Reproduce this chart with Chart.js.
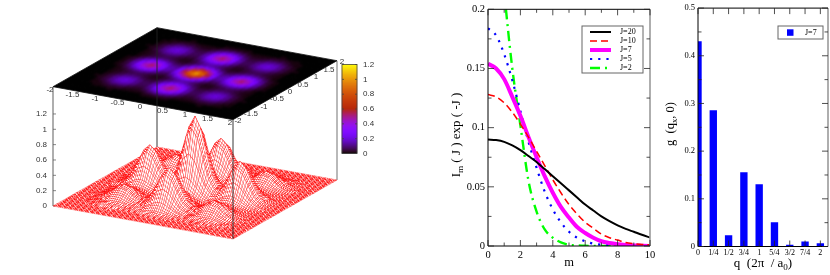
<!DOCTYPE html>
<html>
<head>
<meta charset="utf-8">
<script src="https://cdn.jsdelivr.net/npm/chart.js@4"></script>
<style>
  html, body { margin: 0; padding: 0; background: #fff; }
  body { position: relative; width: 830px; height: 275px; overflow: hidden; }
  canvas { position: absolute; top: 0; filter: blur(0.4px); }
  #heatWrap { position: absolute; left: 0; top: 0; width: 400px; height: 275px; }
  #heatChart { left: 0; filter: blur(1.2px); }
  #surfaceChart { left: 0; }
  #besselChart { left: 440px; }
  #barChart { left: 660px; }
</style>
</head>
<body>
<div id="heatWrap"><canvas id="heatChart" width="400" height="275"></canvas></div>
<canvas id="surfaceChart" width="400" height="275"></canvas>
<canvas id="besselChart" width="220" height="275"></canvas>
<canvas id="barChart" width="170" height="275"></canvas>
<script>
// surface heights, one quadrant (x,y = 0..2 in steps of 0.125), the rest mirrors it
const zQuadrant = [
  [1.00,.86,.56,.28,.14,.16,.29,.45,.52,.45,.29,.14,.05,.01,0,0,0],
  [.86,.75,.48,.24,.12,.14,.25,.39,.45,.39,.25,.12,.04,.01,0,0,0],
  [.56,.48,.31,.16,.08,.09,.16,.25,.29,.25,.16,.08,.03,.01,0,0,0],
  [.28,.24,.16,.08,.04,.05,.08,.12,.14,.12,.08,.04,.01,0,0,0,0],
  [.14,.12,.08,.04,.02,.02,.04,.06,.07,.06,.04,.02,.01,0,0,0,0],
  [.16,.14,.09,.05,.02,.02,.04,.06,.07,.06,.04,.02,.01,0,0,0,0],
  [.29,.25,.16,.08,.04,.04,.06,.10,.11,.10,.06,.03,.01,0,0,0,0],
  [.45,.39,.25,.12,.06,.06,.10,.15,.17,.15,.10,.05,.02,0,0,0,0],
  [.52,.45,.29,.14,.07,.07,.11,.17,.20,.17,.11,.05,.02,.01,0,0,0],
  [.45,.39,.25,.12,.06,.06,.10,.15,.17,.15,.10,.05,.02,0,0,0,0],
  [.29,.25,.16,.08,.04,.04,.06,.10,.11,.10,.06,.03,.01,0,0,0,0],
  [.14,.12,.08,.04,.02,.02,.03,.05,.05,.05,.03,.01,.01,0,0,0,0],
  [.05,.04,.03,.01,.01,.01,.01,.02,.02,.02,.01,.01,0,0,0,0,0],
  [.01,.01,.01,0,0,0,0,0,.01,0,0,0,0,0,0,0,0],
  [0,0,0,0,0,0,0,0,0,0,0,0,0,0,0,0,0],
  [0,0,0,0,0,0,0,0,0,0,0,0,0,0,0,0,0],
  [0,0,0,0,0,0,0,0,0,0,0,0,0,0,0,0,0]
];
const planeTicks = [-2, -1.5, -1, -0.5, 0, 0.5, 1, 1.5, 2];
const zTicks = [0, 0.2, 0.4, 0.6, 0.8, 1, 1.2];

// middle panel
const mValues = [0,.5,1,1.5,2,2.5,3,3.5,4,4.5,5,5.5,6,6.5,7,7.5,8,8.5,9,9.5,10];
const j20 = [.090,.0895,.088,.085,.081,.076,.071,.065,.059,.053,.047,.041,.035,.030,.025,.021,.0175,.0145,.012,.0095,.0072];
const j10 = [.128,.126,.121,.113,.103,.092,.080,.068,.056,.045,.035,.027,.020,.015,.010,.007,.005,.003,.002,.0013,.001];
const j7 = [.154,.150,.141,.126,.110,.092,.075,.059,.045,.033,.024,.016,.011,.007,.004,.0025,.0015,.0009,.0005,.0003,.0001];
const j5 = [.184,.178,.162,.140,.114,.088,.066,.046,.031,.020,.012,.007,.004,.002,.001,.0005,.0002,.0001,0,0,0];
const j2 = [.31,.29,.215,.15,.102,.055,.029,.014,.007,.003,.001,.0005,.0002,.0001,0,0,0,0,0,0,0];
const mTicks = [0, 2, 4, 6, 8, 10];
const mMinor = [1, 3, 5, 7, 9];
const imTicks = [0, 0.05, 0.1, 0.15, 0.2];
const imMinor = [0.025, 0.075, 0.125, 0.175];

// right panel
const qValues = [0, 0.25, 0.5, 0.75, 1, 1.25, 1.5, 1.75, 2];
const qLabels = ['0', '1/4', '1/2', '3/4', '1', '5/4', '3/2', '7/4', '2'];
const gValues = [0.43, 0.285, 0.023, 0.155, 0.13, 0.05, 0.003, 0.01, 0.006];
const gTicks = [0, 0.1, 0.2, 0.3, 0.4, 0.5];
const gMinor = [0.05, 0.15, 0.25, 0.35, 0.45];

Chart.defaults.animation = false;
Chart.defaults.events = [];
Chart.defaults.plugins.legend.display = false;
Chart.defaults.plugins.tooltip.enabled = false;

// projection of the gnuplot view into the page-sized axes of the left charts
const SERIF = '"Liberation Serif", "Times New Roman", serif';
const SANS = '"Liberation Sans", Arial, sans-serif';
const floorProj = (x, y, z) => ({ x: 195 + 45 * x + 26 * y, y: 193 + 8.25 * x - 14.75 * y - 76.7 * z });
const topProj = (x, y) => ({ x: 195 + 45 * x + 26 * y, y: 73.7 + 8.25 * x - 14.75 * y });

const gridZ = (i, j) => zQuadrant[Math.abs(i)][Math.abs(j)];
const step = 0.125;

function pm3d(z) {
  const g = Math.min(Math.max(z / 1.2, 0), 1);
  const r = Math.sqrt(g), gr = g * g * g, b = Math.max(Math.sin(2 * Math.PI * g), 0);
  return `rgb(${Math.round(r * 255)},${Math.round(gr * 255)},${Math.round(b * 255)})`;
}

function shape(points, fill, line, width) {
  return { data: points.concat([points[0]]), showLine: true, fill: 'shape', backgroundColor: fill,
    borderColor: line, borderWidth: width, pointRadius: 0, borderDash: [200, 0], clip: false };
}

const pageScales = {
  x: { type: 'linear', min: 0, max: 400, display: false },
  y: { type: 'linear', min: 0, max: 275, reverse: true, display: false }
};

// heat map on the top plane, one cell around each grid node
const heatCells = [];
for (let i = -16; i <= 16; i++) {
  for (let j = -16; j <= 16; j++) {
    const c = pm3d(gridZ(i, j));
    const x0 = (i - 0.5) * step, x1 = (i + 0.5) * step, y0 = (j - 0.5) * step, y1 = (j + 0.5) * step;
    heatCells.push(shape([topProj(x0, y0), topProj(x1, y0), topProj(x1, y1), topProj(x0, y1)], c, c, 1));
  }
}
const heatChart = new Chart(document.getElementById('heatChart'), {
  type: 'scatter',
  data: { datasets: heatCells },
  options: { responsive: false, devicePixelRatio: 1, layout: { padding: 0 }, scales: pageScales }
});
{
  const sx = heatChart.scales.x, sy = heatChart.scales.y;
  const poly = [[-2, -2], [2, -2], [2, 2], [-2, 2]].map(c => {
    const p = topProj(c[0], c[1]);
    return `${sx.getPixelForValue(p.x)}px ${sy.getPixelForValue(p.y)}px`;
  });
  document.getElementById('heatWrap').style.clipPath = `polygon(${poly.join(',')})`;
}

// fine mesh look: a tile with two inner lines each way, stretched over one facet
const MESH_RED = 'rgba(255,0,0,0.74)';
const MESH_W = 0.5;
function facetPattern(ctx, p) {
  const ux = (p[1].x - p[0].x + p[2].x - p[3].x) / 2, uy = (p[1].y - p[0].y + p[2].y - p[3].y) / 2;
  const vx = (p[3].x - p[0].x + p[2].x - p[1].x) / 2, vy = (p[3].y - p[0].y + p[2].y - p[1].y) / 2;
  const cross = Math.abs(ux * vy - uy * vx) || 1;
  const T = 15;
  const wu = Math.min(MESH_W * T * Math.hypot(vx, vy) / cross, 4);
  const wv = Math.min(MESH_W * T * Math.hypot(ux, uy) / cross, 4);
  const tile = document.createElement('canvas');
  tile.width = T; tile.height = T;
  const t = tile.getContext('2d');
  t.fillStyle = '#fff'; t.fillRect(0, 0, T, T);
  t.fillStyle = MESH_RED;
  t.fillRect(5 - wu / 2, 0, wu, T); t.fillRect(10 - wu / 2, 0, wu, T);
  t.fillRect(0, 5 - wv / 2, T, wv); t.fillRect(0, 10 - wv / 2, T, wv);
  const pat = ctx.createPattern(tile, 'repeat');
  pat.setTransform(new DOMMatrix([ux / T, uy / T, vx / T, vy / T, p[0].x, p[0].y]));
  return pat;
}

// mesh quads, first in the list is drawn last so the front goes first
const surfaceCtx = document.getElementById('surfaceChart').getContext('2d');
const quads = [];
for (let i = -16; i < 16; i++) {
  for (let j = -16; j < 16; j++) {
    const pts = [[i, j], [i + 1, j], [i + 1, j + 1], [i, j + 1]].map(c => floorProj(c[0] * step, c[1] * step, gridZ(c[0], c[1])));
    quads.push({ depth: i - j, set: shape(pts, facetPattern(surfaceCtx, pts), MESH_RED, MESH_W) });
  }
}
quads.sort((a, b) => b.depth - a.depth);

const cbSets = [];
for (let k = 0; k < 89; k++) {
  const y0 = 153.5 - k, c = pm3d((k + 0.5) / 89 * 1.2);
  cbSets.push(shape([{ x: 342, y: y0 }, { x: 357, y: y0 }, { x: 357, y: y0 - 1 }, { x: 342, y: y0 - 1 }], c, c, 0.6));
}

const box3dPlugin = {
  id: 'box3d',
  beforeDatasetsDraw(chart) {
    const ctx = chart.ctx, sx = chart.scales.x, sy = chart.scales.y;
    const P = p => [sx.getPixelForValue(p.x), sy.getPixelForValue(p.y)];
    const line = (a, b, color, w) => {
      ctx.strokeStyle = color; ctx.lineWidth = w; ctx.beginPath();
      ctx.moveTo(...P(a)); ctx.lineTo(...P(b)); ctx.stroke();
    };
    // grey side posts and the back post run behind the surface
    line(topProj(-2, -2), floorProj(-2, -2, 0), '#8c8c8c', 1.4);
    line(topProj(2, 2), floorProj(2, 2, 0), '#a8a8a8', 1.6);
    line(topProj(-2, 2), floorProj(-2, 2, 0), '#222', 0.9);
    // plane outline
    [[-2, -2], [2, -2], [2, 2], [-2, 2]].forEach((c, k, all) => {
      const d = all[(k + 1) % 4];
      line(topProj(c[0], c[1]), topProj(d[0], d[1]), '#111', 0.8);
    });
    // z axis
    ctx.font = '8px ' + SANS; ctx.fillStyle = '#333'; ctx.textBaseline = 'middle';
    zTicks.forEach(v => {
      const p = floorProj(-2, -2, v), q = P(p);
      line(p, { x: p.x + 3, y: p.y }, '#555', 0.7);
      ctx.textAlign = 'right';
      ctx.fillText(String(v), q[0] - 6, q[1]);
    });
    // tick labels around the plane
    ctx.textAlign = 'center';
    planeTicks.forEach(v => {
      const a = topProj(v, -2), b = topProj(2, v);
      ctx.fillText(String(v), ...P({ x: a.x - 3, y: a.y + 3.5 }));
      ctx.fillText(String(v), ...P({ x: b.x + 5, y: b.y + 1.5 }));
    });
    // colour bar labels
    ctx.textAlign = 'left';
    zTicks.forEach(v => {
      const yy = 153.5 - v / 1.2 * 89, q = P({ x: 363, y: yy });
      ctx.fillText(String(v), q[0], q[1]);
    });
  },
  afterDatasetsDraw(chart) {
    const ctx = chart.ctx, sx = chart.scales.x, sy = chart.scales.y;
    const a = topProj(2, -2), b = floorProj(2, -2, 0);
    ctx.strokeStyle = '#222'; ctx.lineWidth = 0.9; ctx.beginPath();
    ctx.moveTo(sx.getPixelForValue(a.x), sy.getPixelForValue(a.y));
    ctx.lineTo(sx.getPixelForValue(b.x), sy.getPixelForValue(b.y));
    ctx.stroke();
    // colour bar frame and ticks
    const X = v => sx.getPixelForValue(v), Y = v => sy.getPixelForValue(v);
    ctx.strokeStyle = '#444'; ctx.lineWidth = 0.8;
    ctx.strokeRect(X(342), Y(64.5), X(357) - X(342), Y(153.5) - Y(64.5));
    zTicks.forEach(v => {
      const yy = Y(153.5 - v / 1.2 * 89);
      ctx.beginPath();
      ctx.moveTo(X(342), yy); ctx.lineTo(X(344), yy);
      ctx.moveTo(X(355), yy); ctx.lineTo(X(357), yy);
      ctx.stroke();
    });
  }
};

new Chart(document.getElementById('surfaceChart'), {
  type: 'scatter',
  data: { datasets: quads.map(q => q.set).concat(cbSets) },
  options: { responsive: false, devicePixelRatio: 1, layout: { padding: 0 }, scales: pageScales },
  plugins: [box3dPlugin]
});

// inward ticks on all four sides, axis titles with subscripts, small boxed legend
const framePlugin = {
  id: 'frame',
  afterDatasetsDraw(chart, args, opts) {
    const ctx = chart.ctx, a = chart.chartArea, sx = chart.scales.x, sy = chart.scales.y;
    ctx.save();
    const seg = (x0, y0, x1, y1) => { ctx.beginPath(); ctx.moveTo(x0, y0); ctx.lineTo(x1, y1); ctx.stroke(); };
    ctx.strokeStyle = '#9a9a9a'; ctx.lineWidth = 1.6;
    seg(a.right, a.top, a.right, a.bottom);
    ctx.strokeStyle = '#000'; ctx.lineWidth = 1;
    seg(a.left, a.top, a.left, a.bottom); seg(a.left, a.top, a.right, a.top); seg(a.left, a.bottom, a.right, a.bottom);
    ctx.lineWidth = 0.8; ctx.strokeStyle = '#222';
    opts.xMajor.forEach(v => { const x = sx.getPixelForValue(v); seg(x, a.bottom, x, a.bottom - 6); seg(x, a.top, x, a.top + 6); });
    opts.xMinor.forEach(v => { const x = sx.getPixelForValue(v); seg(x, a.bottom, x, a.bottom - 3.5); seg(x, a.top, x, a.top + 3.5); });
    opts.yMajor.forEach(v => { const y = sy.getPixelForValue(v); seg(a.left, y, a.left + 6, y); seg(a.right, y, a.right - 6, y); });
    opts.yMinor.forEach(v => { const y = sy.getPixelForValue(v); seg(a.left, y, a.left + 3.5, y); seg(a.right, y, a.right - 3.5, y); });
    ctx.restore();

    // legend box
    const lg = opts.legend;
    ctx.save();
    ctx.fillStyle = '#fff'; ctx.fillRect(lg.x, lg.y, lg.w, lg.h);
    ctx.strokeStyle = '#666'; ctx.lineWidth = 1; ctx.strokeRect(lg.x, lg.y, lg.w, lg.h);
    ctx.font = '8px ' + SERIF; ctx.fillStyle = '#000'; ctx.textBaseline = 'middle'; ctx.textAlign = 'left';
    chart.data.datasets.forEach((d, k) => {
      const y = lg.y + lg.first + k * lg.row;
      if (lg.swatch) {
        ctx.fillStyle = d.backgroundColor;
        ctx.fillRect(lg.lineX, y - 3.2, 6.5, 6.5);
        ctx.fillStyle = '#000';
      } else {
        ctx.strokeStyle = d.borderColor; ctx.lineWidth = d.borderWidth;
        ctx.setLineDash(d.borderDash || []);
        seg(lg.lineX, y, lg.lineX + lg.lineW, y);
        ctx.setLineDash([]);
      }
      ctx.fillText(d.label, lg.textX, y);
    });
    ctx.restore();
  },
  afterDraw(chart, args, opts) {
    const ctx = chart.ctx;
    opts.titles.forEach(t => {
      ctx.save();
      ctx.translate(t.x, t.y);
      if (t.rot) ctx.rotate(-Math.PI / 2);
      ctx.fillStyle = '#000'; ctx.textBaseline = 'alphabetic'; ctx.textAlign = 'left';
      const big = t.size + 'px ' + SERIF, small = (t.size * 0.7) + 'px ' + SERIF;
      let w = 0;
      t.parts.forEach(p => { ctx.font = p[1] ? small : big; w += ctx.measureText(p[0]).width; });
      let cx = -w / 2;
      t.parts.forEach(p => {
        ctx.font = p[1] ? small : big;
        ctx.fillText(p[0], cx, p[1] ? 3 : 0);
        cx += ctx.measureText(p[0]).width;
      });
      ctx.restore();
    });
  }
};

function axis(min, max, stepSize, extra, fit) {
  return Object.assign({
    type: 'linear', min, max,
    grid: { display: false, drawTicks: false },
    border: { display: false },
    ticks: { stepSize, color: '#000', padding: 3, maxRotation: 0, autoSkip: false, includeBounds: false, font: { family: SERIF, size: 10.5 } },
    afterFit: fit
  }, extra);
}

new Chart(document.getElementById('besselChart'), {
  type: 'line',
  data: {
    labels: mValues,
    datasets: [
      { label: 'J=20', data: j20, borderColor: '#000', borderWidth: 2 },
      { label: 'J=10', data: j10, borderColor: '#f00', borderWidth: 1.5, borderDash: [7, 4] },
      { label: 'J=7', data: j7, borderColor: '#f0f', borderWidth: 4 },
      { label: 'J=5', data: j5, borderColor: '#00f', borderWidth: 2.2, borderDash: [2.2, 6] },
      { label: 'J=2', data: j2, borderColor: '#0f0', borderWidth: 2.4, borderDash: [10, 5, 2, 5] }
    ].map(d => Object.assign(d, { pointRadius: 0, cubicInterpolationMode: 'monotone', data: d.data.map((v, i) => ({ x: mValues[i], y: v })) }))
  },
  options: {
    responsive: false, devicePixelRatio: 1,
    layout: { padding: { top: 5, right: 10, left: 0, bottom: 0 } },
    scales: {
      x: axis(0, 10, 2, {}, s => { s.height = 29; }),
      y: axis(0, 0.2, 0.05, { afterTickToLabelConversion(s) { s.ticks.forEach(t => { t.label = String(t.value); }); } }, s => { s.width = 48; })
    },
    plugins: {
      frame: {
        xMajor: mTicks, xMinor: mMinor, yMajor: imTicks, yMinor: imMinor,
        legend: { x: 142, y: 26, w: 61, h: 47, first: 6, row: 9, lineX: 150, lineW: 21, textX: 180 },
        titles: [
          { x: 129, y: 266, size: 12.5, parts: [['m']] },
          { x: 20, y: 135, size: 13, rot: true, parts: [['I'], ['m', 1], [' ( J ) exp ( -J )']] }
        ]
      }
    }
  },
  plugins: [framePlugin]
});

new Chart(document.getElementById('barChart'), {
  type: 'bar',
  data: { datasets: [{ label: 'J=7', data: qValues.map((q, i) => ({ x: q, y: gValues[i] })), backgroundColor: '#0000ff', barThickness: 6.7 }] },
  options: {
    responsive: false, devicePixelRatio: 1,
    layout: { padding: { top: 5, right: 2, left: 0, bottom: 0 } },
    scales: {
      x: axis(0, 2.125, 0.25, {
        offset: false,
        afterTickToLabelConversion(s) { s.ticks.forEach(t => { const k = qValues.indexOf(t.value); t.label = k < 0 ? '' : qLabels[k]; }); },
        ticks: { stepSize: 0.25, color: '#000', padding: 2, maxRotation: 0, autoSkip: false, includeBounds: false, font: { family: SERIF, size: 8 } }
      }, s => { s.height = 28.5; }),
      y: axis(0, 0.5, 0.1, { ticks: { stepSize: 0.1, color: '#000', padding: 3, includeBounds: false, font: { family: SERIF, size: 8.5 } } }, s => { s.width = 38; })
    },
    plugins: {
      frame: {
        xMajor: qValues, xMinor: [], yMajor: gTicks, yMinor: gMinor,
        legend: { x: 118, y: 26, w: 45, h: 13, first: 6.5, row: 9, swatch: true, lineX: 127, lineW: 7, textX: 145 },
        titles: [
          { x: 103, y: 267, size: 13, parts: [['q  (2\u03c0  / a'], ['0', 1], [')']] },
          { x: 14, y: 124, size: 12.5, rot: true, parts: [['g  (q'], ['x', 1], [', 0)']] }
        ]
      }
    }
  },
  plugins: [framePlugin]
});
</script>
</body>
</html>
